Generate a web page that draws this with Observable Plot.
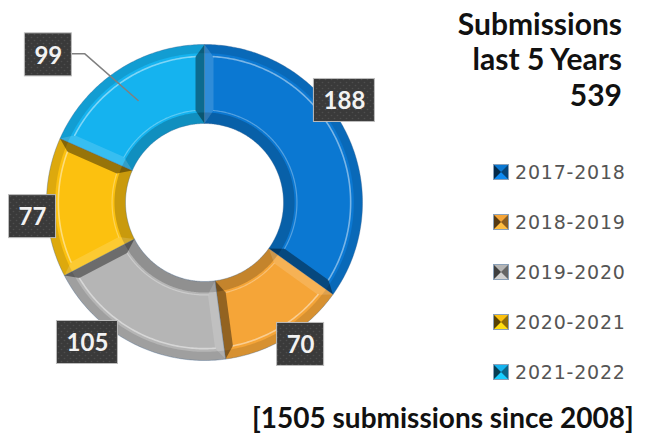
<!DOCTYPE html>
<html>
<head>
<meta charset="utf-8">
<script src="https://cdn.jsdelivr.net/npm/d3@7"></script>
<script src="https://cdn.jsdelivr.net/npm/@observablehq/plot@0.6"></script>
<style>
  html, body { margin: 0; padding: 0; background: #fff; }
  #chart { position: relative; width: 646px; height: 436px; overflow: hidden; }
  #chart svg.plot { position: absolute; left: 0; top: 0; }
  .t { position: absolute; font-family: Lato, "Open Sans", sans-serif; font-weight: 700; color: #111; line-height: 1; white-space: nowrap; }
  .leg { position: absolute; left: 493px; height: 20px; display: flex; align-items: center; white-space: nowrap;
         font-family: "DejaVu Sans", sans-serif; font-size: 19px; letter-spacing: 0.8px; color: #555; }
  .leg svg { margin-right: 6px; }
</style>
</head>
<body>
<svg width="0" height="0" style="position:absolute">
  <defs>
    <pattern id="dots" width="6" height="6" patternUnits="userSpaceOnUse">
      <rect width="6" height="6" fill="#3a3a3a"></rect>
      <circle cx="1.5" cy="1.5" r="0.8" fill="#4e4e4e"></circle>
      <circle cx="4.5" cy="4.5" r="0.8" fill="#4e4e4e"></circle>
    </pattern>
  </defs>
</svg>
<div id="chart"></div>
<script>
// ---------------- data ----------------
const years = ["2017-2018", "2018-2019", "2019-2020", "2020-2021", "2021-2022"];
const submissions = [188, 70, 105, 77, 99];
const sliceColors = ["#0b78d2", "#f5a538", "#b5b5b5", "#fcc10f", "#15b3ef"];
const titleLines = ["Submissions", "last 5 Years"];
const footerText = "[1505 submissions since 2008]";

// ---------------- layout ----------------
const W = 646, H = 436;
const cx = 204, cy = 202, R = 158;   // donut centre / outer radius in pixels
const r0 = 0.5;                      // inner radius (fraction of outer)
// label placement: bearing (deg, clockwise from top) and radius (fraction of R)
const labelPlace = [
  {a: 53.9, r: 1.096}, {a: 145.9, r: 1.085}, {a: 219.9, r: 1.155},
  {a: 265.3, r: 1.092}, {a: 313.4, r: 1.36}
];

const pie = d3.pie().sort(null).value(d => d)(submissions);
const P = (a, r) => [r * Math.sin(a), r * Math.cos(a)];

function ring(a0, a1, ri, ro) {
  const n = Math.max(2, Math.ceil(Math.abs(a1 - a0) / (Math.PI / 240)));
  const pts = [];
  for (let i = 0; i <= n; i++) pts.push(P(a0 + (a1 - a0) * i / n, ro));
  for (let i = n; i >= 0; i--) pts.push(P(a0 + (a1 - a0) * i / n, ri));
  return pts;
}
function arcLine(a0, a1, r) {
  const n = Math.max(2, Math.ceil(Math.abs(a1 - a0) / (Math.PI / 240)));
  const pts = [];
  for (let i = 0; i <= n; i++) pts.push(P(a0 + (a1 - a0) * i / n, r));
  return pts;
}
const toRows = (list) => list.flatMap(({k, pts, c}) => pts.map(([x, y]) => ({k, x, y, c})));

const base = [], outerBand = [], innerBand = [], hiOuter = [], hiInner = [], endBevel = [], startBevel = [];
pie.forEach((s, i) => {
  const a0 = s.startAngle, a1 = s.endAngle;
  base.push({k: i, pts: ring(a0, a1, r0, 1), c: sliceColors[i]});
  outerBand.push({k: i, pts: ring(a0, a1, 0.945, 1), c: "#000"});
  innerBand.push({k: i, pts: ring(a0, a1, r0, 0.57), c: "#000"});
  const bo = 0.925, bi = 0.585, px = 9 / R;
  hiOuter.push({k: i, pts: arcLine(a0 + px / bo, a1 - px / bo, bo), c: "#fff"});
  hiInner.push({k: i, pts: arcLine(a0 + px / bi, a1 - px / bi, bi), c: "#fff"});
  endBevel.push({k: i, c: "#000", pts: [P(a1, 1), P(a1, r0), P(a1 - px / bi, bi), P(a1 - px / bo, bo)]});
  startBevel.push({k: i, c: "#fff", pts: [P(a0, 1), P(a0, r0), P(a0 + px / bi, bi), P(a0 + px / bo, bo)]});
});

// labels
const total = d3.sum(submissions);
const labels = submissions.map((v, i) => {
  const a = labelPlace[i].a * Math.PI / 180, r = labelPlace[i].r;
  const [x, y] = P(a, r);
  const hw = (String(v).length === 3 ? 30.5 : 23.5) / R, hh = 21.5 / R;
  return {v, x, y, x1: x - hw, x2: x + hw, y1: y - hh, y2: y + hh};
});
// leader line for the 2021-2022 label
const L = labels[4];
const midA = (pie[4].startAngle + pie[4].endAngle) / 2;
const leader = [
  {x: L.x2, y: L.y + 1 / R},
  {x: L.x + 36.5 / R, y: L.y + 1 / R},
  {x: P(midA, 0.77)[0], y: P(midA, 0.77)[1]}
];

const fillLine = (list, opts) => Plot.line(toRows(list), {x: "x", y: "y", z: "k", fill: "c", stroke: "none", curve: "linear", ...opts});
const strokeLine = (list, opts) => Plot.line(toRows(list), {x: "x", y: "y", z: "k", stroke: "c", fill: "none", curve: "linear", ...opts});

const plot = Plot.plot({
  width: W, height: H,
  margin: 0,
  x: {domain: [-cx / R, (W - cx) / R], axis: null},
  y: {domain: [-(H - cy) / R, cy / R], axis: null},
  color: {type: "identity"},
  style: {background: "transparent", overflow: "visible"},
  marks: [
    fillLine(base, {}),
    fillLine(outerBand, {fillOpacity: 0.12}),
    fillLine(innerBand, {fillOpacity: 0.2}),
    strokeLine(hiOuter, {strokeWidth: 1.6, strokeOpacity: 0.45}),
    strokeLine(hiInner, {strokeWidth: 1.2, strokeOpacity: 0.3}),
    fillLine(startBevel, {fillOpacity: 0.15}),
    fillLine(endBevel, {fillOpacity: 0.4}),
    Plot.line(toRows(base), {x: "x", y: "y", z: "k", stroke: "#3f628c", strokeOpacity: 0.45, strokeWidth: 0.8, fill: "none"}),
    Plot.line(leader, {x: "x", y: "y", stroke: "#808080", strokeWidth: 1.5}),
    Plot.rect(labels, {x1: "x1", x2: "x2", y1: "y1", y2: "y2", fill: "url(#dots)", stroke: "#bdbdbd", strokeWidth: 1}),
    Plot.text(labels, {x: "x", y: "y", text: d => String(d.v), fill: "#f2f2f2", fontSize: 24, fontWeight: "bold",
      fontFamily: "Lato, 'Open Sans', sans-serif", dy: 1})
  ]
});
plot.classList.add("plot");
const chart = document.getElementById("chart");
chart.appendChild(plot);

// title block
function addText(txt, size, baseline, opts) {
  const d = document.createElement("div");
  d.className = "t";
  d.textContent = txt;
  d.style.fontSize = size + "px";
  d.style.top = (baseline - 0.987 * size + 0.1 * size) + "px";
  Object.assign(d.style, opts);
  chart.appendChild(d);
  return d;
}
addText(titleLines[0], 30, 35, {right: "24px"});
addText(titleLines[1], 30, 70, {right: "24px"});
addText(String(total), 30, 106, {right: "24px"});
addText(footerText, 28, 428, {left: "252px"});

// legend
const legendY = [172, 222, 272, 322, 372];
years.forEach((yr, i) => {
  const c = sliceColors[i];
  const dark = d3.color(c).darker(1.6).formatHex();
  const darker = d3.color(c).darker(3).formatHex();
  const light = d3.color(c).brighter(0.4).formatHex();
  const row = document.createElement("div");
  row.className = "leg";
  row.style.top = (legendY[i] - 10) + "px";
  row.innerHTML = `<svg width="16" height="16" viewBox="0 0 16 16">
      <rect x="0.5" y="0.5" width="15" height="15" fill="${c}" stroke="#8aa0b8" stroke-width="1"></rect>
      <polygon points="1,1 15,1 8,8" fill="${c}"></polygon>
      <polygon points="1,15 15,15 8,8" fill="${light}"></polygon>
      <polygon points="1,1 1,15 8,8" fill="${darker}"></polygon>
      <polygon points="15,1 15,15 8,8" fill="${dark}"></polygon>
    </svg><span>${yr}</span>`;
  chart.appendChild(row);
});
</script>
</body>
</html>
